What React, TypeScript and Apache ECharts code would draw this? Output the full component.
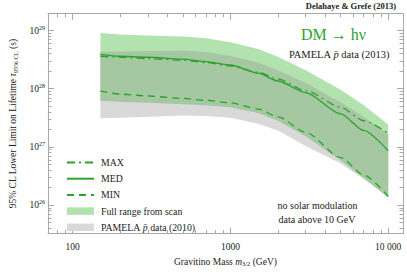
import React, { useEffect, useRef } from "react";
import * as echarts from "echarts";

// Gravitino mass (GeV)
const masses = [150, 200, 300, 500, 700, 1000, 1500, 2000, 3000, 5000, 7000, 10000];
// 95% CL lower limits on lifetime (s)
const maxLimit = [3.62e28, 3.48e28, 3.29e28, 3.1e28, 2.82e28, 2.46e28, 1.92e28, 1.47e28, 9.26e27, 4.82e27, 2.82e27, 1.71e27];
const medLimit = [3.91e28, 3.62e28, 3.48e28, 3.22e28, 2.93e28, 2.56e28, 1.85e28, 1.36e28, 8.58e27, 3.69e27, 1.92e27, 8.58e26];
const minLimit = [9.08e27, 8.09e27, 7.5e27, 6.81e27, 6.31e27, 5.73e27, 4.47e27, 3.29e27, 1.78e27, 6.56e26, 3.29e26, 1.41e26];
const scanUpper = [9.08e28, 8.58e28, 8.25e28, 7.94e28, 7.36e28, 6.31e28, 4.82e28, 3.55e28, 2.07e28, 9.62e27, 5.21e27, 2.42e27];
const scanLower = [6.19e27, 5.96e27, 5.73e27, 5.41e27, 5.21e27, 4.82e27, 3.83e27, 2.82e27, 1.53e27, 5.85e26, 2.93e26, 1.36e26];
const pamelaUpper = [4.38e28, 4.38e28, 4.47e28, 4.55e28, 4.3e28, 3.69e28, 2.82e28, 2.07e28, 1.26e28, 5.85e27, 3.29e27, 1.65e27];
const pamelaLower = [3.1e27, 3.16e27, 3.29e27, 3.48e27, 3.41e27, 3.16e27, 2.51e27, 1.92e27, 1.04e27, 5.21e26, 2.82e26, 1.36e26];

const xTickValues = [100, 1000, 10000];
const xTickLabels = ["100", "1000", "10 000"];
const yTickExponents = [26, 27, 28, 29];

const X_MIN = 1.843;
const X_MAX = 4.094;
const Y_MIN = 25.51;
const Y_MAX = 29.29;

const lg = (v: number) => Math.log10(v);
const GREEN = "#2ba42b";
const FRAME = "#a8a8a8";
const SERIF = "Liberation Serif, DejaVu Serif, serif";
const SCAN_COLOR = "#b2e3ae";
const GRAY_COLOR = "#d9d9d9";
const OVERLAP_COLOR = "#a5c7a2";

function minorLogs(lo: number, hi: number, e0: number, e1: number) {
  const out: number[] = [];
  for (let e = e0; e <= e1; e++) {
    for (let k = 2; k <= 9; k++) {
      const v = lg(k * Math.pow(10, e));
      if (v > lo && v < hi) out.push(v);
    }
  }
  return out;
}

function band(name: string, upper: number[], lower: number[], color: string, z: number) {
  return {
    type: "custom",
    name,
    xAxisIndex: 0,
    yAxisIndex: 0,
    z,
    silent: true,
    clip: true,
    itemStyle: { color },
    data: [[lg(masses[0]), lg(upper[0])]],
    renderItem: (params: any, api: any) => {
      const pts: number[][] = [];
      for (let i = 0; i < masses.length; i++) pts.push(api.coord([lg(masses[i]), lg(upper[i])]));
      for (let i = masses.length - 1; i >= 0; i--) pts.push(api.coord([lg(masses[i]), lg(lower[i])]));
      return { type: "polygon", shape: { points: pts }, style: { fill: color } };
    },
  };
}

function lineSeries(name: string, vals: number[], dash: any) {
  return {
    type: "line",
    name,
    xAxisIndex: 0,
    yAxisIndex: 0,
    z: 10,
    symbol: "none",
    smooth: 0.25,
    smoothMonotone: "x",
    lineStyle: { color: GREEN, width: 1.3, type: dash },
    itemStyle: { color: GREEN },
    data: masses.map((m, i) => [lg(m), lg(vals[i])]),
  };
}

export default function App() {
  const ref = useRef<HTMLDivElement>(null);
  useEffect(() => {
    if (!ref.current) return;
    const chart = echarts.init(ref.current, null, { renderer: "svg" });
    const overlapUpper = masses.map((_, i) => Math.min(scanUpper[i], pamelaUpper[i]));
    const overlapLower = masses.map((_, i) => Math.max(scanLower[i], pamelaLower[i]));
    const xMajor = xTickValues.map(lg);
    const xMinor = minorLogs(X_MIN, X_MAX, 1, 4);
    const yMajor = yTickExponents.slice();
    const yMinor = minorLogs(Y_MIN, Y_MAX, 25, 29);

    const baseX = (position: string, ticks: number[], len: number, withLabels: boolean, withLine: boolean) => ({
      type: "value",
      position,
      min: X_MIN,
      max: X_MAX,
      splitLine: { show: false },
      axisLine: { show: withLine, lineStyle: { color: FRAME, width: 1 } },
      axisTick: { show: true, inside: true, length: len, customValues: ticks, lineStyle: { color: FRAME, width: 1 } },
      axisLabel: withLabels
        ? {
            show: true,
            customValues: xMajor,
            margin: 8,
            color: "#222",
            fontFamily: SERIF,
            fontSize: 9.5,
            formatter: (v: number) => {
              const i = xMajor.findIndex((t) => Math.abs(t - v) < 1e-6);
              return i >= 0 ? xTickLabels[i] : "";
            },
          }
        : { show: false },
    });
    const baseY = (position: string, ticks: number[], len: number, withLabels: boolean, withLine: boolean) => ({
      type: "value",
      position,
      min: Y_MIN,
      max: Y_MAX,
      splitLine: { show: false },
      axisLine: { show: withLine, lineStyle: { color: FRAME, width: 1 } },
      axisTick: { show: true, inside: true, length: len, customValues: ticks, lineStyle: { color: FRAME, width: 1 } },
      axisLabel: withLabels
        ? {
            show: true,
            customValues: yMajor,
            margin: 3,
            color: "#222",
            fontFamily: SERIF,
            formatter: (v: number) => `{b|10}{s|${Math.round(v)}}`,
            rich: {
              b: { fontFamily: SERIF, fontSize: 9.5, color: "#222" },
              s: { fontFamily: SERIF, fontSize: 6, color: "#222", padding: [0, 0, 6, 0] },
            },
          }
        : { show: false },
    });

    const xAxes: any[] = [
      {
        ...baseX("bottom", xMajor, 6, true, true),
        name: "{n|Gravitino Mass }{i|m}{sub|3/2}{n| (GeV)}",
        nameLocation: "middle",
        nameGap: 10,
        nameTextStyle: {
          rich: {
            n: { fontFamily: SERIF, fontSize: 9.5, color: "#222" },
            i: { fontFamily: SERIF, fontSize: 9.5, fontStyle: "italic", color: "#222" },
            sub: { fontFamily: SERIF, fontSize: 6.5, color: "#222", padding: [4, 0, 0, 0] },
          },
        },
      },
      baseX("bottom", xMinor, 3.5, false, false),
      baseX("top", xMajor, 6, false, true),
      baseX("top", xMinor, 3.5, false, false),
    ];
    const yAxes: any[] = [
      {
        ...baseY("left", yMajor, 6, true, true),
        name: "{n|95% CL Lower Limit on Lifetime }{i|τ}{sub|95% CL}{n| (s)}",
        nameLocation: "middle",
        nameGap: 23,
        nameRotate: 90,
        nameTextStyle: {
          rich: {
            n: { fontFamily: SERIF, fontSize: 9.5, color: "#222" },
            i: { fontFamily: SERIF, fontSize: 9.5, fontStyle: "italic", color: "#222" },
            sub: { fontFamily: SERIF, fontSize: 6.5, color: "#222", padding: [4, 0, 0, 0] },
          },
        },
      },
      baseY("left", yMinor, 3.5, false, false),
      baseY("right", yMajor, 6, false, true),
      baseY("right", yMinor, 3.5, false, false),
    ];

    chart.setOption({
      animation: false,
      backgroundColor: "#ffffff",
      grid: { left: 35, right: 4, top: 13.7, bottom: 31.3, containLabel: false },
      xAxis: xAxes,
      yAxis: yAxes,
      legend: {
        orient: "vertical",
        left: 66,
        top: 157.5,
        padding: 0,
        itemWidth: 27,
        itemHeight: 7.5,
        itemGap: 6.2,
        selectedMode: false,
        textStyle: {
          fontFamily: SERIF,
          fontSize: 9.8,
          color: "#222",
          padding: [0, 0, 0, 2],
          rich: {
            n: { fontFamily: SERIF, fontSize: 9.8, color: "#222" },
            i: { fontFamily: SERIF, fontSize: 9.8, fontStyle: "italic", color: "#222" },
          },
        },
        formatter: (name: string) =>
          name === "PAMELA p̄ data (2010)" ? "{n|PAMELA }{i|p̄}{n| data (2010)}" : name,
        data: [
          { name: "MAX", itemStyle: { opacity: 0 } },
          { name: "MED", itemStyle: { opacity: 0 } },
          { name: "MIN", itemStyle: { opacity: 0 } },
          { name: "Full range from scan", icon: "rect", itemStyle: { color: SCAN_COLOR } },
          { name: "PAMELA p̄ data (2010)", icon: "rect", itemStyle: { color: GRAY_COLOR } },
        ],
      },
      graphic: [
        {
          type: "text",
          right: 11,
          top: 1.5,
          style: { text: "Delahaye & Grefe (2013)", font: `bold 8.5px ${SERIF}`, fill: "#222" },
        },
        {
          type: "text",
          x: 333.5,
          y: 34,
          style: { text: "DM → hν", font: `16px ${SERIF}`, fill: GREEN, align: "center", verticalAlign: "middle" },
        },
        {
          type: "text",
          x: 339,
          y: 54,
          style: {
            text: "{n|PAMELA }{i|p̄}{n| data (2013)}",
            align: "center",
            verticalAlign: "middle",
            rich: {
              n: { fontFamily: SERIF, fontSize: 10.5, fill: "#222", color: "#222" },
              i: { fontFamily: SERIF, fontSize: 10.5, fontStyle: "italic", fill: "#222", color: "#222" },
            },
          } as any,
        },
        {
          type: "text",
          x: 317.5,
          y: 205,
          style: { text: "no solar modulation", font: `10px ${SERIF}`, fill: "#222", align: "center", verticalAlign: "middle" },
        },
        {
          type: "text",
          x: 317,
          y: 219.5,
          style: { text: "data above 10 GeV", font: `10px ${SERIF}`, fill: "#222", align: "center", verticalAlign: "middle" },
        },
      ],
      series: [
        band("Full range from scan", scanUpper, scanLower, SCAN_COLOR, 1),
        band("PAMELA p̄ data (2010)", pamelaUpper, pamelaLower, GRAY_COLOR, 2),
        band("overlap", overlapUpper, overlapLower, OVERLAP_COLOR, 3),
        lineSeries("MAX", maxLimit, [8, 4, 2, 4]),
        lineSeries("MED", medLimit, "solid"),
        lineSeries("MIN", minLimit, [7, 5]),
      ],
    });
    return () => chart.dispose();
  }, []);
  return (
    <div
      ref={ref}
      style={{ position: "fixed", left: 0, top: 0, width: 407, height: 272, background: "#fff" }}
    />
  );
}
